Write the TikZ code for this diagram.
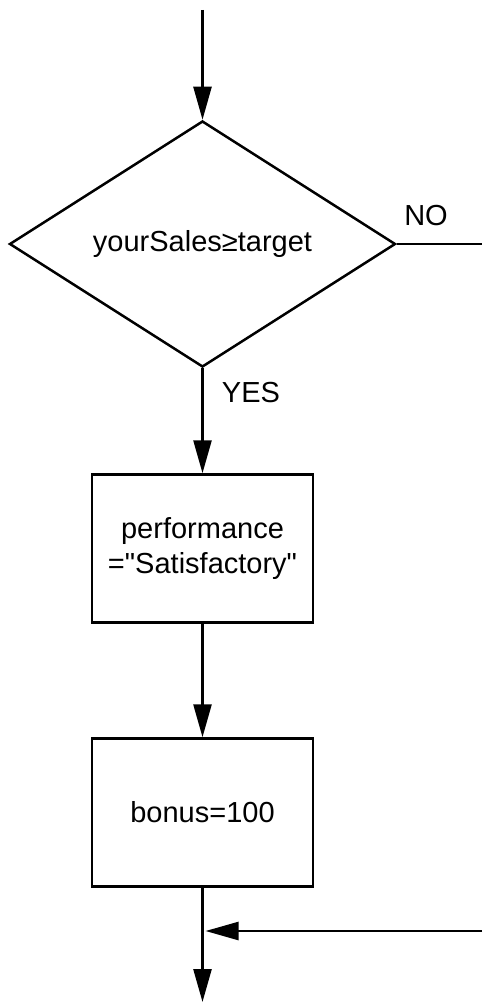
\documentclass[tikz,border=0pt]{standalone}
\usepackage{fontspec}
\newfontfamily\flowfont{Liberation Sans}
\usetikzlibrary{arrows.meta,shapes.geometric}

\begin{document}
\begin{tikzpicture}[
    x=1pt, y=-1pt,
    decision/.style={draw, diamond, line width=2.5pt, minimum width=386pt, minimum height=230pt, inner sep=0pt, align=center, font=\flowfont\fontsize{29}{35}\selectfont},
    process/.style={draw, rectangle, line width=2.5pt, minimum width=221pt, minimum height=148pt, align=center, font=\flowfont\fontsize{29}{35}\selectfont},
    arrow/.style={-{Triangle[length=33pt, width=18pt]}, line width=2.5pt},
    branch/.style={font=\flowfont\fontsize{29}{35}\selectfont}
]
\useasboundingbox (0,0) rectangle (482,1003);

% Entry and test
\coordinate (start) at (202.5,10);
\node[decision] (test) at (202.5,244) {yourSales≥target};
\draw[arrow] (start) -- (test.north);

% NO branch
\coordinate (noEnd) at (482,244);
\draw[line width=2.5pt] (test.east) -- (noEnd);
\node[branch] (no) at (426,216) {NO};

% YES branch
\node[process] (perf) at (202.5,548.5) {performance\\="Satisfactory"};
\draw[arrow] (test.south) -- (perf.north);
\node[branch] (yes) at (251,393) {YES};

\node[process] (bonus) at (202.5,812.5) {bonus=100};
\draw[arrow] (perf.south) -- (bonus.north);

% Merge and exit
\coordinate (exit) at (202.5,1002);
\coordinate (merge) at (202.5,931);
\coordinate (loopIn) at (482,931);
\draw[arrow] (bonus.south) -- (exit);
\draw[arrow, shorten >=3pt] (loopIn) -- (merge);
\end{tikzpicture}
\end{document}
